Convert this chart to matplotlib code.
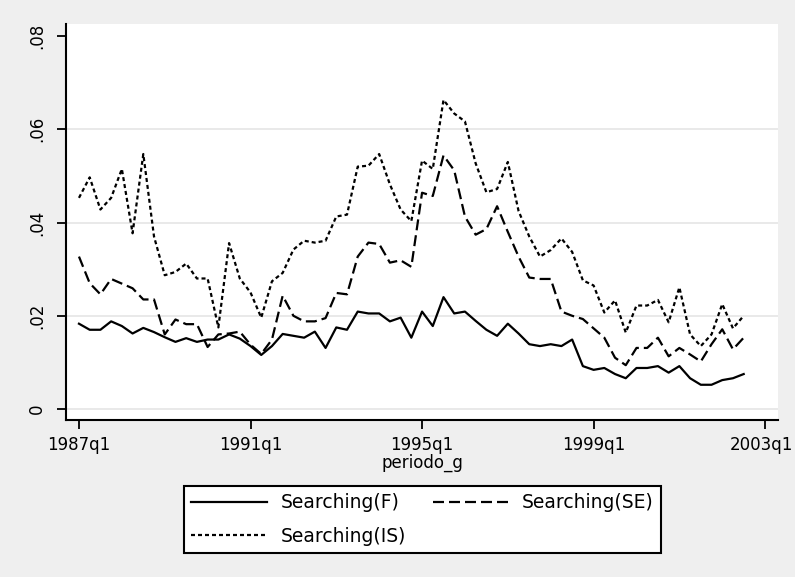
import numpy as np
import matplotlib
matplotlib.use("Agg")
import matplotlib.pyplot as plt
from matplotlib.transforms import ScaledTranslation

# quarterly series, 1987q1 .. 2002q3
START_YEAR = 1987
tick_quarters = [0, 16, 32, 48, 64]

searching_f = [.0183, .0170, .0170, .0188, .0178, .0162, .0174, .0165, .0154, .0144,
               .0152, .0144, .0149, .0149, .0160, .0151, .0135, .0116, .0135, .0161,
               .0157, .0153, .0166, .0131, .0175, .0170, .0209, .0205, .0205, .0188,
               .0196, .0153, .0209, .0178, .0240, .0205, .0209, .0189, .0170, .0157,
               .0183, .0162, .0139, .0135, .0139, .0135, .0149, .0092, .0084, .0088,
               .0075, .0066, .0088, .0088, .0092, .0078, .0092, .0066, .0052, .0052,
               .0062, .0066, .0075]

searching_se = [.0327, .0270, .0246, .0279, .0269, .0259, .0235, .0235, .0160, .0192,
                .0182, .0182, .0133, .0160, .0162, .0166, .0138, .0118, .0149, .0243,
                .0200, .0188, .0188, .0195, .0249, .0246, .0327, .0357, .0354, .0314,
                .0319, .0305, .0464, .0457, .0544, .0512, .0413, .0374, .0386, .0435,
                .0380, .0327, .0282, .0279, .0279, .0209, .0200, .0193, .0173, .0153,
                .0110, .0094, .0131, .0131, .0153, .0113, .0131, .0117, .0102, .0139,
                .0171, .0128, .0153]

searching_is = [.0453, .0497, .0428, .0453, .0515, .0377, .0547, .0370, .0287, .0294,
                .0312, .0280, .0280, .0175, .0356, .0280, .0250, .0196, .0274, .0292,
                .0342, .0361, .0357, .0361, .0413, .0417, .0520, .0522, .0547, .0482,
                .0428, .0403, .0533, .0515, .0663, .0634, .0617, .0527, .0465, .0472,
                .0530, .0425, .0370, .0327, .0341, .0366, .0337, .0276, .0265, .0207,
                .0233, .0164, .0222, .0222, .0234, .0186, .0261, .0160, .0135, .0160,
                .0225, .0173, .0200]

yticks = [0, .02, .04, .06, .08]
ytick_labels = ["0", ".02", ".04", ".06", ".08"]

BG = "#efefef"
GRID = "#e3e3e3"
LW = 1.6

def qlabel(q):
    return "%dq%d" % (START_YEAR + q // 4, q % 4 + 1)

fig = plt.figure(figsize=(7.95, 5.77), dpi=100, facecolor=BG)
ax = fig.add_axes([66/795, 1 - 420/577, (778 - 66)/795, (420 - 24)/577])
ax.set_facecolor("white")

x = np.arange(len(searching_f))
for g in yticks[:-1]:
    ax.axhline(g, color=GRID, lw=1.1, zorder=0)

l1, = ax.plot(x, searching_f, color="black", lw=LW, ls="-")
l2, = ax.plot(x, searching_se, color="black", lw=LW, ls=(0, (4.95, 2.25)))
l3, = ax.plot(x, searching_is, color="black", lw=LW, ls=(0, (1.8, 1.35)))

ax.set_xlim(-1.21, 65.2)
ax.set_ylim(-0.00236, 0.0826)
ax.set_xticks(tick_quarters)
ax.set_xticklabels([qlabel(q) for q in tick_quarters])
ax.set_yticks(yticks)
ax.set_yticklabels(ytick_labels, rotation=90, va="center")
ax.tick_params(axis="both", direction="out", length=6.5, width=1.3,
               labelsize=12, color="black")
ax.tick_params(axis="x", pad=5)
ax.tick_params(axis="y", pad=8)

# last label sits right at the figure edge; nudge it in a little
last = ax.get_xticklabels()[-1]
last.set_transform(last.get_transform() + ScaledTranslation(-4/100, 0, fig.dpi_scale_trans))

for s in ["top", "right"]:
    ax.spines[s].set_visible(False)
for s in ["left", "bottom"]:
    ax.spines[s].set_linewidth(1.5)

ax.set_xlabel("periodo_g", fontsize=12, labelpad=0)

# column-wise fill: F, IS in first column, SE in second
leg = fig.legend([l1, l3, l2], ["Searching(F)", "Searching(IS)", "Searching(SE)"],
                 loc="center", bbox_to_anchor=(422.5/795, 1 - 519.5/577),
                 ncol=2, fontsize=13.5, frameon=True, fancybox=False,
                 edgecolor="black", facecolor="white", framealpha=1,
                 handlelength=4.05, handletextpad=0.7, columnspacing=1.45,
                 labelspacing=0.75, borderpad=0.4, borderaxespad=0)
leg.get_frame().set_linewidth(1.5)

fig.savefig("out.png", dpi=100, facecolor=BG)
